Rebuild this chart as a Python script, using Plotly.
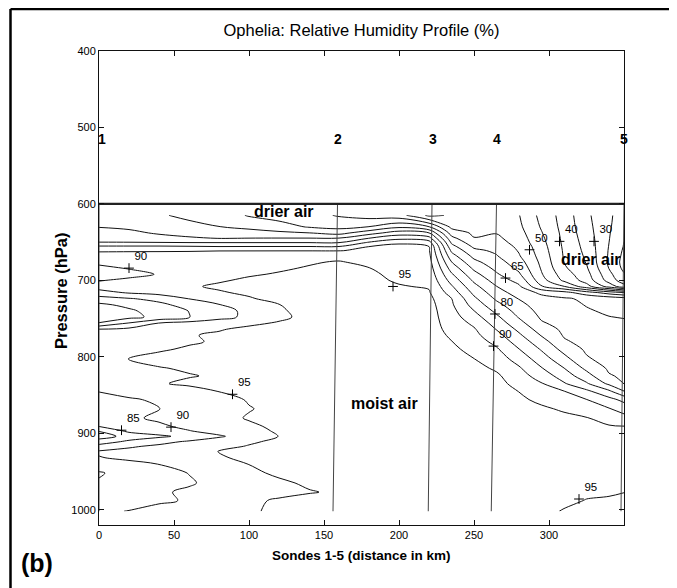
import plotly.graph_objects as go

# ---------------- data ----------------
X_KM = [0, 20, 40, 60, 80, 100, 120, 140, 160, 180, 200, 220, 235, 250, 265, 280, 295, 310, 325, 340, 350]
P_HPA = [615, 630, 638, 645, 651, 656, 661, 668, 676, 684, 692, 700, 708, 716, 724, 732, 740, 748, 756, 764,
         772, 780, 790, 803, 815, 825, 835, 845, 856, 868, 880, 891, 897, 904, 911, 917, 924, 932, 940, 952,
         965, 977, 988, 1002]

RH = [
    [72, 71.5, 70.5, 69, 67.5, 64.6, 63, 61.5, 59.6, 58, 57, 49, 50.5, 52, 53, 50.2, 43.5, 38, 31, 26, 22],
    [74.8, 73.8, 72.5, 71.3, 70.1, 68.8, 67, 64.6, 63.5, 65.1, 69, 65.2, 53.8, 53.2, 54, 51, 44.5, 38.3, 31.7, 25.7, 21.3],
    [77, 76.5, 74.2, 73.2, 72.5, 72, 71, 70.1, 68.3, 73, 77.5, 75.1, 57.8, 54.2, 54.8, 51.8, 45.3, 38.6, 32.2, 25.4, 20.8],
    [78.5, 78.3, 77.5, 75.7, 74.9, 75.1, 75.2, 75.2, 75.3, 80.1, 83.6, 82, 61.5, 55.2, 56, 52.5, 46, 38.8, 32.7, 25.2, 20.3],
    [80.3, 80.3, 80.3, 80.3, 80.3, 80.3, 80.3, 80.3, 80.3, 86, 89.8, 87.5, 64.5, 57.3, 57.2, 53.1, 46.6, 39, 33.1, 25, 19.9],
    [86, 86, 86, 85.6, 85.2, 85.3, 85.3, 85.3, 85.3, 90.1, 90.5, 90.1, 66.8, 59.2, 58.2, 54, 47.1, 39.2, 33.4, 24.8, 19.7],
    [89.5, 89.5, 89.5, 89.6, 89.8, 89.8, 89.8, 89.8, 89.8, 90.8, 90.9, 90.5, 69.1, 61.1, 59.1, 54.6, 47.5, 39.4, 33.7, 24.6, 19.3],
    [91.5, 91.8, 92, 92, 92.5, 92.8, 93, 93.2, 93.5, 91.9, 91.6, 91.1, 71.9, 63.6, 60.3, 55.4, 48.1, 39.6, 34.2, 24.4, 18.8],
    [91, 92, 92, 92.5, 93, 93.3, 94, 94.6, 95.3, 93.9, 92.3, 91.8, 75.1, 66.3, 62.1, 57.1, 48.8, 39.9, 34.7, 24.1, 18.3],
    [89, 90.3, 91, 92.5, 93, 93.8, 94.5, 95.3, 96, 95.1, 93.1, 92.5, 77.9, 69, 63.7, 58.8, 49.5, 40.8, 35.6, 24.8, 18.8],
    [87.3, 88.5, 90.3, 92.2, 93.5, 94.6, 95.3, 96, 96.5, 95.8, 93.8, 93.2, 80.6, 71.6, 65.6, 60.7, 50.4, 42.4, 36.8, 26.4, 20.4],
    [89.7, 91, 92, 93, 94.6, 95.6, 96.2, 96.6, 97, 96, 94.5, 93.9, 83.1, 74.1, 67.8, 63.3, 52, 44, 38, 28, 22],
    [92, 92.5, 93, 94.5, 95.6, 96.3, 96.6, 97, 97, 96.6, 95.3, 94.6, 85.6, 76.5, 70.1, 65.8, 55.4, 50.2, 42, 33, 27],
    [88.3, 90.5, 91.8, 93.2, 94.6, 95.7, 96.5, 97, 97, 97, 96, 95.4, 87.8, 78.8, 72.1, 67.8, 64, 61.7, 57.3, 52.7, 50.2],
    [83, 84.6, 86.5, 90.1, 92.3, 94.6, 96.3, 97, 97, 97, 96.6, 96.2, 90.1, 81, 74.2, 69.8, 66.7, 65.6, 64.2, 63.2, 62.2],
    [79, 81.2, 83.8, 86.9, 89.8, 92.6, 94.9, 96.5, 97, 97, 97, 96.8, 90.7, 83, 76.5, 71.4, 67.6, 66.3, 64.8, 63.8, 63.1],
    [77, 79.2, 82.1, 85.1, 87.9, 91.4, 94.4, 96.5, 97, 97, 97, 97, 91.5, 85.1, 78.8, 73, 68.4, 67.1, 65.4, 64.4, 64.1],
    [76.5, 78.6, 81.4, 84.8, 88.3, 91.2, 94.1, 96.2, 97, 97, 97, 97, 92.2, 87, 81, 74.6, 69.3, 67.8, 66.1, 65.1, 64.8],
    [80.3, 85.3, 90.2, 91.6, 92.9, 94.2, 95.4, 96.6, 97, 97, 97, 97, 92.9, 89, 82.9, 76.7, 70.5, 68.4, 66.8, 65.7, 65.6],
    [90.2, 91.2, 92.4, 93.5, 94.7, 95.9, 96.6, 97, 97, 97, 97, 97, 93.6, 90.5, 84.8, 78.9, 72.6, 69, 67.3, 66.2, 66.2],
    [92, 92.9, 93.8, 94.7, 95.6, 96.4, 97, 97, 97, 97, 97, 97, 94.4, 91.4, 86.7, 80.9, 74.7, 69.6, 67.8, 66.6, 66.6],
    [92.5, 93.2, 93.9, 94.6, 95.4, 96.2, 97, 97, 97, 97, 97, 97, 95.1, 92.3, 88.6, 82.7, 77.1, 70.6, 68.5, 67, 67],
    [93, 93.8, 94.6, 95.4, 96.2, 97, 97, 97, 97, 97, 97, 97, 96, 93.5, 90.6, 85.1, 79.5, 73.3, 69.2, 67.5, 67.5],
    [94, 95.1, 96, 96.6, 97, 97, 97, 97, 97, 97, 97, 97, 97, 95.1, 92.5, 88.1, 82.5, 76.8, 70.6, 68.3, 68.2],
    [93.5, 94.2, 94.8, 95.4, 96, 96.6, 97, 97, 97, 97, 97, 97, 97, 96.5, 94.3, 90.6, 85.3, 80.1, 73.9, 69.3, 68.8],
    [93, 93.6, 94.2, 94.8, 95.4, 96, 96.6, 97, 97, 97, 97, 97, 97, 97, 95.8, 92, 87.9, 82.6, 77, 70.4, 69.3],
    [92, 93.3, 94.7, 95.6, 96.3, 97, 97, 97, 97, 97, 97, 97, 97, 97, 96.5, 93.4, 90.3, 85.5, 80.6, 73.9, 69.8],
    [90.1, 91.3, 92.5, 93.7, 95.1, 96, 96.8, 97, 97, 97, 97, 97, 97, 97, 97, 94.9, 92.1, 90.1, 86.1, 80.9, 75.1],
    [89, 89.6, 90.5, 92, 93.6, 95.3, 96.5, 97, 97, 97, 97, 97, 97, 97, 97, 95.8, 94, 92.1, 90.1, 86.6, 83.6],
    [88.5, 89.2, 89.9, 91.8, 93.5, 94.8, 96, 97, 97, 97, 97, 97, 97, 97, 97, 96.8, 95.7, 94.4, 92.7, 90.3, 88],
    [87.5, 89.2, 90.8, 92.3, 93.8, 95.3, 96.5, 97, 97, 97, 97, 97, 97, 97, 97, 97, 97, 96, 95.2, 93.4, 91.6],
    [85.1, 87.1, 89.2, 91.1, 92.8, 94.4, 95.7, 96.8, 97, 97, 97, 97, 97, 97, 97, 97, 97, 97, 96.4, 95.3, 95.1],
    [80.2, 86.2, 88, 89.8, 91.8, 93.7, 95.5, 96.6, 97, 97, 97, 97, 97, 97, 97, 97, 97, 97, 96.8, 95.5, 95.4],
    [78, 81.5, 84, 86.5, 89.4, 92.2, 95.1, 96.6, 97, 97, 97, 97, 97, 97, 97, 97, 97, 97, 97, 95.9, 95.9],
    [82, 86.2, 88.6, 90.6, 92.4, 94.3, 96, 97, 97, 97, 97, 97, 97, 97, 97, 97, 97, 97, 97, 96.1, 96.3],
    [87, 89.4, 90.8, 92.2, 93.6, 95.3, 96.4, 97, 97, 97, 97, 97, 97, 97, 97, 97, 97, 97, 97, 96.7, 96.8],
    [90.5, 91.3, 92.6, 93.8, 95.1, 96.2, 97, 97, 97, 97, 97, 97, 97, 97, 97, 97, 97, 97, 97, 97, 97],
    [89.8, 90.8, 92, 93.2, 94.6, 95.8, 96.6, 97, 97, 97, 97, 97, 97, 97, 97, 97, 97, 97, 97, 97, 97],
    [88, 89, 90.1, 91.8, 93.4, 95.1, 96.2, 97, 97, 97, 97, 97, 97, 97, 97, 97, 97, 97, 97, 97, 97],
    [84.5, 87, 88.6, 90.1, 92, 94, 95.8, 96.8, 97, 97, 97, 97, 97, 97, 97, 97, 97, 97, 97, 97, 97],
    [85.5, 87, 88.3, 89.6, 91.2, 92.8, 94.2, 95.7, 97, 97, 97, 97, 97, 97, 97, 97, 97, 97, 97, 96.8, 96.4],
    [87, 88.2, 89.5, 90.6, 91.8, 92.9, 93.8, 94.7, 95.6, 96.5, 97, 97, 97, 97, 97, 97, 97, 97, 95.9, 95.5, 95.1],
    [88, 88.8, 89.5, 90.3, 92, 94.2, 95.5, 96.5, 97, 97, 97, 97, 97, 97, 97, 97, 97, 96.2, 94.8, 94.5, 93.7],
    [89.5, 90.1, 91.1, 92.2, 93.4, 94.6, 95.6, 96.5, 97, 97, 97, 97, 97, 97, 97, 97, 96.5, 94.6, 93.5, 93, 91.8],
]

CONTOUR_START, CONTOUR_END, CONTOUR_STEP = 20, 95, 5

SONDE_NAMES = ["1", "2", "3", "4", "5"]
SONDE_TOP_KM = [0, 159, 222, 265, 350]
SONDE_BOTTOM_KM = [0, 156, 219.5, 261.5, 348]
SONDE_LABEL_KM = [1.8, 159, 222.5, 265, 350]
SONDE_TOP_HPA = 600
SONDE_BOTTOM_HPA = 1002
SONDE_LABEL_HPA = 515

LABEL_TEXT = ["90", "95", "85", "90", "95", "65", "80", "90", "50", "40", "30", "95"]
LABEL_KM = [20, 89, 15, 48, 196, 271, 264, 263, 287, 307, 330, 320]
LABEL_HPA = [684, 849, 896, 892, 708, 697, 744, 786, 660, 649, 649, 986]

REGION_TEXT = ["drier air", "drier air", "moist air"]
REGION_KM = [123, 328, 190]
REGION_HPA = [610, 673, 861]

X_TICKS = [0, 50, 100, 150, 200, 250, 300]
Y_TICKS = [400, 500, 600, 700, 800, 900, 1000]

SANS = "Liberation Sans, Arial, sans-serif"

fig = go.Figure()

fig.add_trace(go.Contour(
    x=X_KM, y=P_HPA, z=RH,
    autocontour=False,
    contours=dict(start=CONTOUR_START, end=CONTOUR_END, size=CONTOUR_STEP, coloring="lines"),
    colorscale=[[0, "#111111"], [1, "#111111"]],
    line=dict(width=1, smoothing=1.0),
    showscale=False, hoverinfo="skip",
))

# sonde drop lines
for tk, bk in zip(SONDE_TOP_KM, SONDE_BOTTOM_KM):
    fig.add_trace(go.Scatter(x=[tk, bk], y=[SONDE_TOP_HPA, SONDE_BOTTOM_HPA], mode="lines",
                             line=dict(color="#444444", width=1), showlegend=False, hoverinfo="skip"))

# top of data line
fig.add_trace(go.Scatter(x=[0, 350], y=[SONDE_TOP_HPA, SONDE_TOP_HPA], mode="lines",
                         line=dict(color="#222222", width=2.2), showlegend=False, hoverinfo="skip"))

# contour labels (+ marks with values)
fig.add_trace(go.Scatter(
    x=LABEL_KM, y=LABEL_HPA, mode="markers+text", text=LABEL_TEXT,
    textposition="top right", textfont=dict(family=SANS, size=11.5, color="black"),
    marker=dict(symbol="cross-thin", size=7, line=dict(width=1, color="black"), color="black"),
    showlegend=False, hoverinfo="skip", cliponaxis=False,
))

annotations = []
for name, km in zip(SONDE_NAMES, SONDE_LABEL_KM):
    annotations.append(dict(x=km, y=SONDE_LABEL_HPA, xref="x", yref="y", text="<b>%s</b>" % name, showarrow=False,
                            font=dict(family=SANS, size=14, color="black"), xanchor="center", yanchor="middle"))
for t, km, p in zip(REGION_TEXT, REGION_KM, REGION_HPA):
    annotations.append(dict(x=km, y=p, xref="x", yref="y", text="<b>%s</b>" % t, showarrow=False,
                            font=dict(family=SANS, size=16, color="black"), xanchor="center", yanchor="middle"))

# page offset: the browser body adds 8 px around the figure
OFF = 8
# plot area in screenshot pixels
PLOT_L, PLOT_R, PLOT_T, PLOT_B = 99, 624, 51, 525
W, H = 677, 588


def px_x(px):
    return (px - PLOT_L) / (PLOT_R - PLOT_L)


def px_y(py):
    return (PLOT_B - py) / (PLOT_B - PLOT_T)


annotations.append(dict(x=px_x(61), y=px_y(291), xref="paper", yref="paper", text="<b>Pressure (hPa)</b>",
                        textangle=-90, showarrow=False, font=dict(family=SANS, size=16.5, color="black"),
                        xanchor="center", yanchor="middle"))
annotations.append(dict(x=px_x(361), y=px_y(555), xref="paper", yref="paper",
                        text="<b>Sondes 1-5 (distance in km)</b>", showarrow=False,
                        font=dict(family=SANS, size=13.5, color="black"), xanchor="center", yanchor="middle"))
annotations.append(dict(x=px_x(37), y=px_y(563), xref="paper", yref="paper", text="<b>(b)</b>", showarrow=False,
                        font=dict(family=SANS, size=25, color="black"), xanchor="center", yanchor="middle"))

shapes = [
    dict(type="line", xref="paper", yref="paper", x0=px_x(10.5), x1=px_x(10.5), y0=px_y(9), y1=px_y(H + 20),
         line=dict(color="black", width=2.5)),
    dict(type="line", xref="paper", yref="paper", x0=px_x(10.5), x1=px_x(W + 20), y0=px_y(9), y1=px_y(9),
         line=dict(color="black", width=2.5)),
]

axis_common = dict(showgrid=False, zeroline=False, showline=True, linecolor="#111111", linewidth=1,
                   ticks="inside", ticklen=5, tickcolor="#111111", mirror="allticks",
                   tickfont=dict(family=SANS, size=11, color="black"))

fig.update_layout(
    width=W, height=H,
    margin=dict(l=PLOT_L - OFF, r=W - PLOT_R + OFF, t=PLOT_T - OFF, b=H - PLOT_B + OFF),
    paper_bgcolor="white", plot_bgcolor="white",
    title=dict(text="Ophelia: Relative Humidity Profile (%)", x=0.5, xref="paper", xanchor="center",
               y=1 - (30 - OFF) / H, yref="container", yanchor="middle",
               font=dict(family=SANS, size=16.5, color="black")),
    xaxis=dict(range=[0, 350], tickvals=X_TICKS, **axis_common),
    yaxis=dict(range=[1020, 400], tickvals=Y_TICKS, **axis_common),
    annotations=annotations, shapes=shapes, showlegend=False,
)

fig.write_html("out.html")
